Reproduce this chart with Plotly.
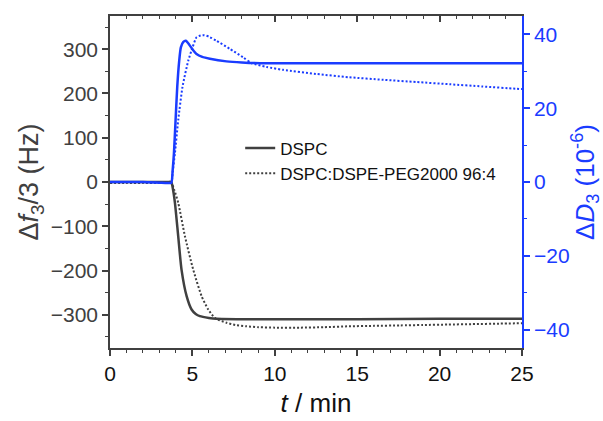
import plotly.graph_objects as go

# ---- data ----
t_f_dspc = [0, 1, 2, 3, 3.5, 3.72, 3.8, 3.94, 4.14, 4.34, 4.65, 4.95, 5.2, 5.45, 6.0, 6.47, 8, 10, 15, 20, 25]
f_dspc = [0, 0, 0, 0, 0, 0, -12, -47, -123, -198, -258, -288, -298, -303, -307, -309, -310, -310, -310, -309, -309]

t_f_peg = [0, 1, 2, 3, 3.5, 3.72, 3.9, 4.14, 4.55, 5.05, 5.56, 5.96, 6.36, 7.07, 7.6, 8.28, 9, 10, 11.5, 13, 14.5, 16, 17.6, 19, 20.5, 22, 23.6, 25]
f_peg = [-2, -2, -2, -2, -2, -2, -18, -47, -123, -198, -258, -288, -307, -318, -323, -326, -328, -329, -329, -328, -326, -325, -324, -323, -322, -321, -320, -319]

t_d_dspc = [0, 1, 2, 3, 3.5, 3.72, 3.8, 3.88, 3.98, 4.08, 4.2, 4.3, 4.45, 4.6, 4.8, 5.0, 5.25, 5.6, 6.06, 7.07, 8, 9.1, 12, 15, 20, 25]
d_dspc = [0, 0, 0, -0.2, -0.3, -0.2, 3, 7.8, 16.8, 25.8, 32.9, 36.5, 38.0, 38.3, 37.3, 36.0, 34.7, 33.9, 33.4, 32.7, 32.4, 32.2, 32.2, 32.2, 32.2, 32.2]

t_d_peg = [0, 1, 2, 3, 3.5, 3.72, 3.8, 3.94, 4.14, 4.4, 4.75, 5.01, 5.25, 5.5, 5.72, 6.0, 6.46, 7.27, 8.08, 8.6, 9.5, 10.5, 12.5, 14.5, 16.6, 18.6, 20.6, 22.6, 24.6, 25]
d_peg = [0, 0, 0, -0.2, -0.3, -0.2, 2.5, 7.8, 16.8, 25.8, 32.9, 36.5, 39.2, 39.7, 39.8, 39.4, 38.3, 36.1, 33.8, 32.2, 31.2, 30.4, 29.3, 28.4, 27.7, 27.1, 26.5, 25.9, 25.3, 25.2]

names = ["DSPC", "DSPC:DSPE-PEG2000 96:4"]

GRAY = "#404040"
BLUE = "#1a3cff"
FONT = "Liberation Sans, Arial, sans-serif"

fig = go.Figure()
fig.add_trace(go.Scatter(x=t_f_dspc, y=f_dspc, name=names[0], mode="lines",
                         line=dict(color=GRAY, width=2.5, shape="spline", smoothing=0.6)))
fig.add_trace(go.Scatter(x=t_f_peg, y=f_peg, name=names[1], mode="lines",
                         line=dict(color=GRAY, width=2, dash="2px,2px", shape="spline", smoothing=0.6)))
fig.add_trace(go.Scatter(x=t_d_dspc, y=d_dspc, yaxis="y2", mode="lines", showlegend=False,
                         line=dict(color=BLUE, width=2.5, shape="spline", smoothing=0.6)))
fig.add_trace(go.Scatter(x=t_d_peg, y=d_peg, yaxis="y2", mode="lines", showlegend=False,
                         line=dict(color=BLUE, width=2, dash="2px,2px", shape="spline", smoothing=0.6)))
# anchor for top mirror axis
fig.add_trace(go.Scatter(x=[None], y=[None], xaxis="x2", showlegend=False, hoverinfo="skip"))

fig.update_layout(
    width=603, height=421,
    margin=dict(l=110, r=81, t=16, b=73),
    paper_bgcolor="white", plot_bgcolor="white",
    font=dict(family=FONT, color="#111111"),
    showlegend=True,
    legend=dict(x=0.316, y=0.655, xanchor="left", yanchor="top",
                bgcolor="rgba(0,0,0,0)", font=dict(size=17, color="#111111"),
                tracegroupgap=0),
    xaxis=dict(range=[0, 25], showgrid=False, zeroline=False, automargin=False,
               showline=True, linecolor=GRAY, linewidth=1.5,
               ticks="outside", ticklen=6, tickwidth=1.5, tickcolor=GRAY,
               dtick=5, tick0=0,
               minor=dict(dtick=1, ticks="outside", ticklen=3, tickwidth=1.2, tickcolor=GRAY),
               tickfont=dict(size=21, color="#111111"),
               title=dict(text="<i>t</i> / min", font=dict(size=26, color="#111111"), standoff=10)),
    xaxis2=dict(range=[0, 25], overlaying="x", side="top", anchor="y", automargin=False,
                showgrid=False, zeroline=False, showticklabels=False,
                showline=True, linecolor=GRAY, linewidth=1.5,
                ticks="inside", ticklen=6, tickwidth=1.5, tickcolor=GRAY,
                dtick=5, tick0=0,
                minor=dict(dtick=1, ticks="inside", ticklen=3, tickwidth=1.2, tickcolor=GRAY)),
    yaxis=dict(range=[-375, 375], showgrid=False, zeroline=False, automargin=False,
               showline=True, linecolor=GRAY, linewidth=1.5,
               ticks="outside", ticklen=6, tickwidth=1.5, tickcolor=GRAY,
               dtick=100, tick0=0,
               minor=dict(dtick=50, ticks="outside", ticklen=3, tickwidth=1.2, tickcolor=GRAY),
               tickfont=dict(size=21, color=GRAY),
               title=dict(text="Δ<i>f</i><sub>3</sub>/3 (Hz)", font=dict(size=27, color=GRAY), standoff=4)),
    yaxis2=dict(range=[-45, 45], overlaying="y", side="right", anchor="x", automargin=False,
                showgrid=False, zeroline=False,
                showline=True, linecolor=BLUE, linewidth=1.5,
                ticks="outside", ticklen=6, tickwidth=1.5, tickcolor=BLUE,
                dtick=20, tick0=0,
                minor=dict(dtick=10, ticks="outside", ticklen=3, tickwidth=1.2, tickcolor=BLUE),
                tickfont=dict(size=21, color=BLUE),
                title=dict(text="Δ<i>D</i><sub>3</sub> (10<sup>-6</sup>)", font=dict(size=26, color=BLUE), standoff=8)),
)

fig.write_html("out.html")
